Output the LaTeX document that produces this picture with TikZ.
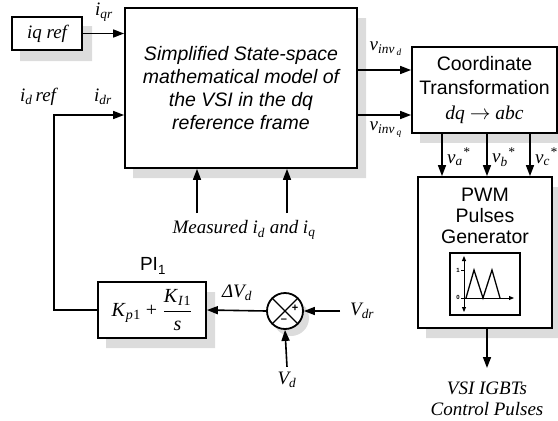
\documentclass[tikz,border=0pt]{standalone}
\usepackage{fontspec}
\setmainfont{Liberation Serif}
\setsansfont{Liberation Sans}
\usepackage{amsmath}
\usetikzlibrary{arrows.meta,positioning}
\definecolor{ShadeGray}{HTML}{DCDCDC}
\newcommand{\iv}[2]{\textit{#1}\textsubscript{\textit{#2}}}

\begin{document}
\begin{tikzpicture}[x=1pt,y=-1pt,
  blk/.style={draw, line width=1.8pt, fill=white, inner sep=0pt, align=center},
  arr/.style={-{Triangle[length=11pt,width=8pt]}, line width=1.6pt},
  lbl/.style={font=\fontsize{19}{21}\selectfont\itshape, inner sep=0pt, align=center},
  txt/.style={font=\fontsize{19.5}{22.5}\selectfont\sffamily, align=center}
]
\useasboundingbox (0,0) rectangle (558,421);

% blocks
\node[blk, font=\fontsize{19}{21}\selectfont\itshape, minimum width=70pt, minimum height=33pt] (iq) at (47,33.5) {iq ref};
\node[blk, txt, font=\fontsize{19.5}{23}\selectfont\sffamily\itshape, minimum width=232pt, minimum height=160pt] (model) at (241,88) {Simplified State-space\\mathematical model of\\the VSI in the dq\\reference frame};
\node[blk, txt, font=\fontsize{19.5}{24.5}\selectfont\sffamily, minimum width=145pt, minimum height=86pt] (ct) at (484.5,90) {Coordinate\\Transformation\\{\rmfamily\itshape dq \textbf{$\rightarrow$} abc}};
\node[blk, minimum width=134pt, minimum height=151pt] (pwm) at (485,252.5) {};
\node[txt, font=\fontsize{19.5}{21}\selectfont\sffamily] (pwmtxt) at (485,216) {PWM\\Pulses\\Generator};
\node[blk, font=\fontsize{20}{22}\selectfont, minimum width=108pt, minimum height=56pt] (pi) at (152,310)
  {$\text{\iv{K}{p}\textsubscript{1} +\;}\dfrac{\text{\iv{K}{I}\textsubscript{1}}}{\text{\textit{s}}}$};
\node[font=\fontsize{19}{19}\selectfont\sffamily] (pilbl) at (153,266) {PI\textsubscript{1}};

% shadows
\fill[ShadeGray] (83,26) -- (92,26) -- (92,61) -- (20,61) -- (20,51) -- (83,51) -- cycle;
\fill[ShadeGray] (358,18) -- (366,18) -- (366,178) -- (133,178) -- (133,169) -- (358,169) -- cycle;
\fill[ShadeGray] (420,134) rectangle (566,143);
\fill[ShadeGray] (553,187) -- (561,187) -- (561,338) -- (426,338) -- (426,329) -- (553,329) -- cycle;
\fill[ShadeGray] (207,292) -- (215,292) -- (215,348) -- (106,348) -- (106,339) -- (207,339) -- cycle;
\fill[ShadeGray] (291,318) circle (18);

% summing point
\node[draw, circle, line width=1.8pt, minimum size=36pt, fill=white, inner sep=0pt] (sum) at (285,311) {};
\draw[line width=1.4pt] (sum.north east) -- (sum.south west) (sum.north west) -- (sum.south east);
\node[font=\fontsize{11}{11}\selectfont\sffamily\bfseries, inner sep=0pt] (plus) at (295,308) {+};
\node[font=\fontsize{11}{11}\selectfont\sffamily\bfseries, inner sep=0pt] (minus) at (284,321) {–};

% small waveform inside the PWM block
\draw[line width=1.6pt, fill=white] (450,253) rectangle (520,315);
\draw[line width=1pt, {Triangle[length=5pt,width=4pt]}-{Triangle[length=5pt,width=4pt]}] (464,256) -- (464,312);
\draw[line width=1pt, -{Triangle[length=5pt,width=4pt]}] (461,298) -- (514,298);
\draw[line width=1.3pt] (466,298) -- (474,270) -- (483,298) -- (492,270) -- (500,298);
\draw[line width=0.6pt] (461,270) -- (464,270);
\node[font=\fontsize{6}{6}\selectfont\sffamily\bfseries, inner sep=0pt] (one) at (458,270) {1};
\node[font=\fontsize{6}{6}\selectfont\sffamily\bfseries, inner sep=0pt] (zero) at (458,297) {0};

% labels
\node[lbl] (iqr) at (104,12) {\iv{i}{qr}};
\node[lbl] (idref) at (38,97) {\iv{i}{d}\,\textit{ref}};
\node[lbl] (idr) at (103,97) {\iv{i}{dr}};
\node[lbl] (vinvd) at (386,49) {\textit{v}\textsubscript{\textit{inv}\,\textsubscript{\textit{d}}}};
\node[lbl] (vinvq) at (386,130) {\textit{v}\textsubscript{\textit{inv}\,\textsubscript{\textit{q}}}};
\node[lbl] (meas) at (244,230) {Measured \iv{i}{d} and \iv{i}{q}};
\node[lbl] (dv) at (237,293) {\textit{Δ}\iv{V}{d}};
\node[lbl, anchor=west] (vdr) at (350,311) {\iv{V}{dr}};
\node[lbl] (vdn) at (287,380) {\iv{V}{d}};
\node[lbl] (igbt) at (487,399) {VSI IGBTs\\Control Pulses};
\coordinate (m1) at (197,213);
\coordinate (m2) at (287,213);
\coordinate (out) at (487,368);

% connectors
\draw[arr] (iq.east) -- (iq.east -| model.west);
\draw[arr] (pi.west) -| (54,115) -- (model.west |- 0,115);
\draw[arr] (model.east |- 0,70) -- (ct.west |- 0,70);
\draw[arr] (model.east |- 0,115) -- (ct.west |- 0,115);
\foreach \x/\p in {442/a,487/b,530/c} {
  \draw[arr] (ct.south -| \x,0) -- (pwm.north -| \x,0);
  \node[lbl, anchor=west] (v\p) at (\x+5,157) {\textit{v}\textsubscript{\textit{\p}}\textsuperscript{*}};
}
\draw[arr] (pwm.south -| out) -- (out);
\draw[arr] (m1) -- (model.south -| m1);
\draw[arr] (m2) -- (model.south -| m2);
\draw[arr] (sum.west) -- (pi.east);
\draw[arr] ([xshift=-10pt]vdr.west) -- (sum.east);
\draw[arr] ([yshift=5pt]vdn.north) -- (sum.south);
\end{tikzpicture}
\end{document}
